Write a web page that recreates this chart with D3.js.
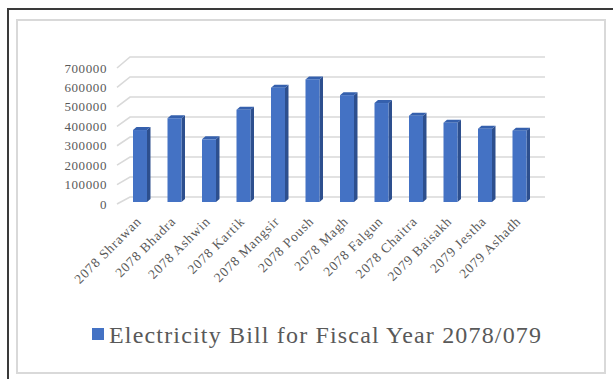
<!DOCTYPE html>
<html>
<head>
<meta charset="utf-8">
<script src="https://cdn.jsdelivr.net/npm/d3@7"></script>
<style>
  body { margin: 0; background: #fff; }
</style>
</head>
<body>
<div id="chart"></div>
<script>
var months = ['2078 Shrawan', '2078 Bhadra', '2078 Ashwin', '2078 Kartik', '2078 Mangsir', '2078 Poush',
	'2078 Magh', '2078 Falgun', '2078 Chaitra', '2079 Baisakh', '2079 Jestha', '2079 Ashadh'];
var bills = [365000, 425000, 318000, 468000, 580000, 622000, 542000, 502000, 438000, 402000, 372000, 362000];
var yTicks = [0, 100000, 200000, 300000, 400000, 500000, 600000, 700000];
var seriesName = 'Electricity Bill for Fiscal Year 2078/079';

var W = 613, H = 379,
	serif = "'Liberation Serif', 'Times New Roman', serif",
	textColor = '#595959';
var svg = d3.select('#chart').append('svg').attr('width', W).attr('height', H);

// frame (dark outer lines, light inner border)
svg.append('path').attr('d', 'M8,379V9H613').attr('fill', 'none').attr('stroke', '#3a3a3a').attr('stroke-width', 2);
svg.append('rect').attr('x', 17).attr('y', 20).attr('width', 588).attr('height', 353)
	.attr('fill', 'none').attr('stroke', '#d9d9d9').attr('stroke-width', 2);

// scales: front plane, back wall, and bar plane (3d-ish)
var x = d3.scaleBand().domain(months).range([118, 532]).padding(0);
var yFront = d3.scaleLinear().domain([0, 700000]).range([204, 68]);
var yBack = d3.scaleLinear().domain([0, 700000]).range([197, 57]);
var yBar = d3.scaleLinear().domain([0, 700000]).range([202, 64]);
var depth = 13;

// gridlines with the little diagonal on the side wall
var grid = svg.append('g');
yTicks.forEach(function(t) {
	grid.append('path')
		.attr('d', 'M117,' + yFront(t) + 'L' + (117 + depth) + ',' + yBack(t) + 'H545')
		.attr('fill', 'none').attr('stroke', '#d9d9d9').attr('stroke-width', 1.6);
});

// y labels
svg.append('g').selectAll('text').data(yTicks).enter().append('text')
	.attr('x', 107).attr('y', function(d) { return yFront(d); })
	.attr('dy', '0.35em').attr('text-anchor', 'end')
	.attr('font-family', serif).attr('fill', textColor)
	.attr('font-size', 13).attr('letter-spacing', 0.6)
	.text(function(d) { return d; });

// bars: front face, right side, top
var bw = 14, side = 3.5;
var bars = svg.append('g').selectAll('g').data(bills).enter().append('g');
function bx(d, i) { return x(months[i]) + 15; }
bars.append('path').attr('fill', '#2d4f8e')
	.attr('d', function(d, i) {
		var l = bx(d, i) + bw, t = yBar(d), b = yBar(0);
		return 'M' + l + ',' + t + 'L' + (l + side) + ',' + (t - 3) + 'V' + (b - 3) + 'L' + l + ',' + b + 'Z';
	});
bars.append('path').attr('fill', '#3560ad')
	.attr('d', function(d, i) {
		var l = bx(d, i), t = yBar(d);
		return 'M' + l + ',' + t + 'L' + (l + side) + ',' + (t - 3) + 'H' + (l + bw + side) + 'L' + (l + bw) + ',' + t + 'Z';
	});
bars.append('rect').attr('fill', '#4472c4')
	.attr('x', bx).attr('y', function(d) { return yBar(d); })
	.attr('width', bw).attr('height', function(d) { return yBar(0) - yBar(d); });

// x labels, rotated
svg.append('g').selectAll('text').data(months).enter().append('text')
	.attr('transform', function(d) { return 'translate(' + (x(d) + x.bandwidth() / 2 + 7) + ',222) rotate(-45)'; })
	.attr('text-anchor', 'end')
	.attr('font-family', serif).attr('fill', textColor)
	.attr('font-size', 13.5).attr('letter-spacing', 0.9)
	.text(function(d) { return d; });

// legend
var legend = svg.append('g');
legend.append('rect').attr('x', 92).attr('y', 328).attr('width', 12).attr('height', 12).attr('fill', '#4472c4');
legend.append('text').attr('x', 109).attr('y', 343)
	.attr('font-family', serif).attr('fill', textColor).attr('font-size', 24)
	.attr('textLength', 432).attr('lengthAdjust', 'spacing')
	.text(seriesName);
</script>
</body>
</html>
